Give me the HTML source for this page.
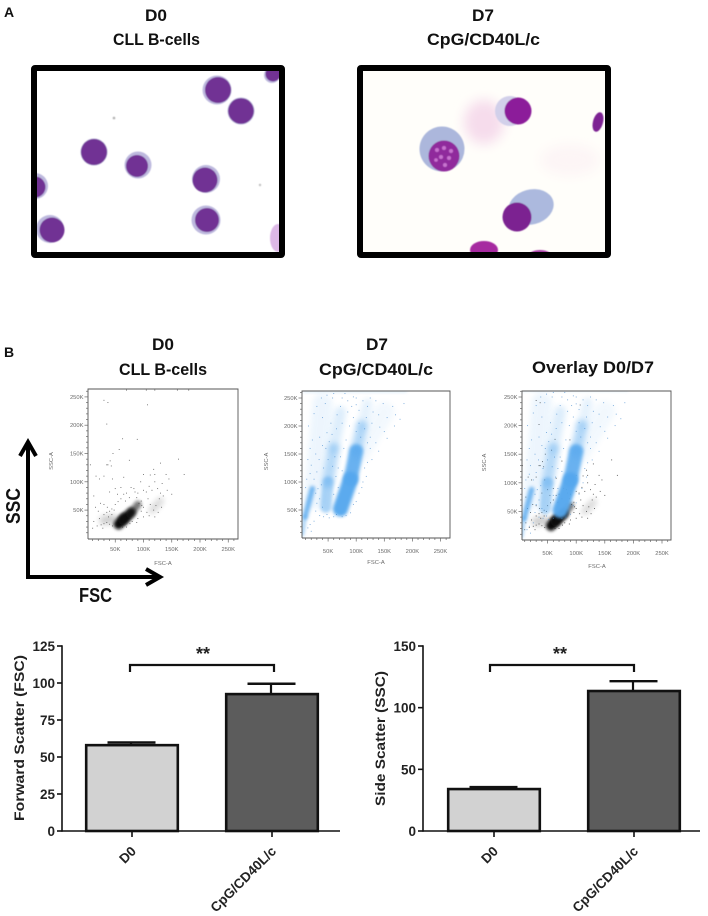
<!DOCTYPE html>
<html lang="en">
<head>
<meta charset="utf-8">
<title>CLL B-cell morphology and scatter</title>
<style>
html,body{margin:0;padding:0;background:#fff;}
body{width:708px;height:916px;overflow:hidden;}
svg{display:block;font-family:"Liberation Sans",sans-serif;}
.title{font-weight:700;font-size:16.5px;fill:#111;text-anchor:start;}
.facs{font-size:5.8px;fill:#6a6a6a;}
.barlabel{font-weight:700;fill:#222;}
</style>
</head>
<body>
<svg id="figure" xmlns="http://www.w3.org/2000/svg" width="708" height="916" viewBox="0 0 708 916">
<defs>
<filter id="soft" filterUnits="userSpaceOnUse" x="0" y="60" width="708" height="210"><feGaussianBlur stdDeviation="0.6"/></filter>
<filter id="haze" filterUnits="userSpaceOnUse" x="300" y="40" width="408" height="240"><feGaussianBlur stdDeviation="6"/></filter>
<filter id="streak" filterUnits="userSpaceOnUse" x="0" y="370" width="708" height="200"><feGaussianBlur stdDeviation="1.5"/></filter>
<filter id="cloud" filterUnits="userSpaceOnUse" x="0" y="370" width="708" height="200"><feGaussianBlur stdDeviation="3"/></filter>
<clipPath id="clip-left"><rect x="37" y="71" width="242" height="181"/></clipPath>
<clipPath id="clip-right"><rect x="363" y="71" width="242" height="181"/></clipPath>
</defs>

<text x="4" y="17" font-size="14" font-weight="700" fill="#111">A</text>
<text class="title" x="145" y="21" textLength="22" lengthAdjust="spacingAndGlyphs">D0</text>
<text class="title" x="113" y="45" textLength="87" lengthAdjust="spacingAndGlyphs">CLL B-cells</text>
<text class="title" x="472" y="21" textLength="22" lengthAdjust="spacingAndGlyphs">D7</text>
<text class="title" x="427" y="45" textLength="113" lengthAdjust="spacingAndGlyphs">CpG/CD40L/c</text>

<g>
  <rect x="34" y="68" width="248" height="187" fill="#fff"/>
  <g clip-path="url(#clip-left)" filter="url(#soft)">
    <g fill="#bdb9de">
      <circle cx="217" cy="90" r="14.5"/><circle cx="241" cy="111" r="13.5"/><circle cx="94" cy="152" r="13.5"/><circle cx="138" cy="165" r="13.5"/><circle cx="206" cy="179" r="14"/><circle cx="206" cy="220" r="14.5"/><circle cx="50" cy="229" r="14"/><circle cx="35" cy="186" r="13"/><circle cx="272" cy="75" r="8"/>
    </g>
    <g fill="#713094">
      <circle cx="218" cy="90" r="13"/><circle cx="241" cy="111" r="12.8"/><circle cx="94" cy="152" r="13"/><circle cx="137" cy="166" r="11"/><circle cx="205" cy="180" r="12.5"/><circle cx="207" cy="220" r="12"/><circle cx="52" cy="230" r="12.5"/><circle cx="35" cy="187" r="10.5"/><circle cx="273" cy="74" r="7.5"/>
    </g>
    <ellipse cx="278" cy="238" rx="8" ry="14" fill="#dcb8e6"/>
    <circle cx="114" cy="118" r="1.3" fill="#b0b0b0"/>
    <circle cx="260" cy="185" r="1.2" fill="#c0c0c0"/>
  </g>
  <rect x="34" y="68" width="248" height="187" fill="none" stroke="#000" stroke-width="6" rx="1"/>
</g>

<g>
  <rect x="360" y="68" width="248" height="187" fill="#fffefa"/>
  <g clip-path="url(#clip-right)">
    <ellipse cx="484" cy="122" rx="20" ry="22" fill="#f6dcec" filter="url(#haze)"/>
    <ellipse cx="570" cy="160" rx="30" ry="16" fill="#fdf5f6" filter="url(#haze)"/>
    <g filter="url(#soft)">
      <circle cx="442" cy="149" r="22.5" fill="#acb7dc"/>
      <circle cx="444" cy="156" r="15.5" fill="#902a9c"/>
      <g fill="#c873cf"><circle cx="437" cy="150" r="2"/><circle cx="444" cy="148" r="2"/><circle cx="451" cy="151" r="2"/><circle cx="441" cy="157" r="2"/><circle cx="449" cy="158" r="2"/><circle cx="436" cy="160" r="1.8"/><circle cx="445" cy="165" r="2"/></g>
      <ellipse cx="510" cy="111" rx="15" ry="15" fill="#d2d0ea"/>
      <circle cx="518" cy="111" r="13.5" fill="#8c1f9a"/>
      <ellipse cx="531" cy="207" rx="23" ry="17.5" fill="#acb9de" transform="rotate(-15 531 207)"/>
      <circle cx="517" cy="217" r="14.5" fill="#7c2091"/>
      <ellipse cx="598" cy="122" rx="5" ry="10" fill="#7d2493" transform="rotate(15 598 122)"/>
      <ellipse cx="484" cy="250" rx="14" ry="9" fill="#a62aa0"/>
      <ellipse cx="540" cy="255" rx="11" ry="5" fill="#a73fa6"/>
    </g>
  </g>
  <rect x="360" y="68" width="248" height="187" fill="none" stroke="#000" stroke-width="6" rx="1"/>
</g>

<text x="4" y="357" font-size="14" font-weight="700" fill="#111">B</text>
<text class="title" x="152" y="350" textLength="22" lengthAdjust="spacingAndGlyphs">D0</text>
<text class="title" x="119" y="375" textLength="88" lengthAdjust="spacingAndGlyphs">CLL B-cells</text>
<text class="title" x="366" y="350" textLength="22" lengthAdjust="spacingAndGlyphs">D7</text>
<text class="title" x="319" y="375" textLength="114" lengthAdjust="spacingAndGlyphs">CpG/CD40L/c</text>
<text class="title" x="532" y="373" textLength="122" lengthAdjust="spacingAndGlyphs">Overlay D0/D7</text>

<g id="plots"></g>

<g fill="none" stroke="#000" stroke-width="4" stroke-linejoin="miter">
  <path d="M28 579V442M20 456L28 442L36 456"/>
  <path d="M26 577H160M146 569L160 577L146 585"/>
</g>
<text transform="translate(20,524) rotate(-90)" font-size="20" font-weight="700" fill="#111" textLength="36" lengthAdjust="spacingAndGlyphs">SSC</text>
<text x="79" y="602" font-size="20" font-weight="700" fill="#111" textLength="33" lengthAdjust="spacingAndGlyphs">FSC</text>

<g id="bars"></g>
</svg>

<script>
// ---------- Flow cytometry data (values in thousands) ----------
var facsTickLabels = ['50K', '100K', '150K', '200K', '250K'];
var facsTicks = [50, 100, 150, 200, 250];
// [fsc start, ssc start, fsc end, ssc end, width, opacity]
var d0Populations = [
  [56, 25, 66, 36, 18, 1],
  [64, 32, 78, 46, 17, 0.95],
  [76, 42, 90, 60, 13, 0.55],
  [30, 32, 46, 34, 16, 0.2],
  [115, 50, 130, 66, 12, 0.16]
];
var d7Populations = [
  [25, 70, 40, 240, 36, 0.1],
  [105, 150, 150, 225, 36, 0.07],
  [46, 55, 50, 100, 20, 0.5],
  [50, 100, 60, 160, 20, 0.42],
  [60, 160, 72, 225, 20, 0.2],
  [72, 52, 90, 105, 27, 0.96],
  [90, 105, 100, 155, 25, 0.88],
  [100, 155, 110, 200, 20, 0.42],
  [110, 200, 120, 240, 18, 0.15],
  [9, 38, 22, 88, 10, 0.8],
  [4, 6, 9, 38, 6, 0.55]
];
var d7TopEdge = [6, 262, 190, 262, 2, 0.6];
var d0Points = [[30,244],[37,240],[35,202],[63,176],[89,175],[107,236],[57,157],[46,150],[41,137],[37,130],[30,110],[35,130],[43,128],[16,110],[22,105],[45,105],[75,138],[162,140],[172,113],[130,133],[118,122],[100,113],[120,113],[140,113],[145,105],[133,97],[120,100],[110,92],[95,100],[100,85],[83,88],[90,80],[88,72],[96,66],[105,82],[115,85],[125,88],[142,85],[135,75],[128,70],[122,58],[118,50],[126,46],[132,55],[112,60],[108,70],[100,55],[96,48],[106,46],[90,35],[88,28],[80,30],[76,26],[70,20],[45,22],[40,25],[35,28],[30,26],[25,24],[22,35],[20,48],[15,55],[30,42],[35,46],[40,48],[44,42],[38,38],[50,60],[55,65],[60,70],[65,78],[70,80],[75,72],[48,50],[44,52],[28,18],[18,22],[12,30],[10,18],[63,20],[85,82],[78,90],[60,90],[50,88],[54,78],[68,66],[92,62],[97,58],[110,40],[100,38],[120,38],[130,80],[150,78],[112,112],[65,108],[40,82],[30,60],[24,62],[36,55],[12,75],[6,130],[160,262],[180,262],[105,262],[120,262],[70,262]];
var d7Points = [[15,200],[22,175],[28,150],[20,130],[30,118],[38,95],[25,105],[18,115],[35,180],[40,215],[45,240],[30,235],[58,250],[75,250],[85,245],[100,250],[112,245],[120,235],[130,225],[140,220],[155,215],[170,220],[185,240],[150,190],[135,170],[125,160],[140,155],[128,140],[120,135],[115,125],[118,110],[125,180],[115,195],[105,205],[95,215],[85,225],[75,205],[65,195],[55,205],[48,188],[40,165],[34,140],[62,145],[58,128],[68,125],[64,110],[68,90],[60,78],[35,70],[30,62],[28,48],[35,40],[42,38],[48,42],[52,36],[60,38],[65,42],[40,55],[25,30],[18,24],[14,18],[20,12],[110,90],[112,100],[105,80],[100,65],[95,60],[90,45],[82,40],[75,38],[120,170],[108,180],[100,190],[88,200],[82,175],[78,160],[72,145],[75,120],[50,140],[42,125],[46,160],[52,172],[57,185],[66,220],[72,235],[92,235],[105,228],[118,215],[128,205],[142,198],[100,238],[95,252],[80,258],[60,258],[48,255],[38,250],[25,222],[18,160],[14,140],[12,105],[10,90],[32,88],[28,80],[155,178],[168,200],[178,212],[165,235],[148,240],[135,245],[125,250]];

var plotsConfig = [
  {name: 'd0', left: 88, right: 238, top: 389, bottom: 539, x0: 87, xk: 0.565, y0: 538.4, yk: 0.566, xt: 551, lx: 163, ly: 565, yl: 53, show: ['d0']},
  {name: 'd7', left: 302, right: 450, top: 391, bottom: 538, x0: 300, xk: 0.562, y0: 538, yk: 0.56, xt: 553, lx: 376, ly: 564, yl: 268, show: ['d7']},
  {name: 'overlay', left: 522, right: 671, top: 391, bottom: 540, x0: 519, xk: 0.572, y0: 540, yk: 0.572, xt: 555, lx: 597, ly: 568, yl: 486, show: ['d0', 'd7']}
];

// ---------- Bar chart data ----------
var barCategories = ['D0', 'CpG/CD40L/c'];
var fscValues = [58, 92.5];
var fscErrors = [1.8, 7];
var fscTicks = [0, 25, 50, 75, 100, 125];
var sscValues = [34, 113.5];
var sscErrors = [1.6, 8];
var sscTicks = [0, 50, 100, 150];

var NS = 'http://www.w3.org/2000/svg';
function mk(parent, tag, attrs) {
  var el = document.createElementNS(NS, tag);
  for (var k in attrs) { el.setAttribute(k, attrs[k]); }
  parent.appendChild(el);
  return el;
}

function drawPopulations(g, cfg, list, color, xs, ys) {
  list.forEach(function (p) {
    var line = mk(g, 'line', {x1: xs(p[0]), y1: ys(p[1]), x2: xs(p[2]), y2: ys(p[3]), stroke: color, 'stroke-width': p[4] * cfg.xk, 'stroke-linecap': 'round', opacity: p[5], filter: p[5] < 0.5 ? 'url(#cloud)' : 'url(#streak)'});
    
    
  });
}
function drawPoints(g, list, color, xs, ys, op) {
  list.forEach(function (p) {
    var dot = mk(g, 'rect', {x: xs(p[0]) - 0.45, y: ys(p[1]) - 0.45, width: 0.9, height: 0.9, fill: color, opacity: op});
    
    
  });
}

function drawPlot(cfg) {
  var root = document.getElementById('plots');
  var g = mk(root, 'g', {});
  
  
  var xs = function (v) { return cfg.x0 + v * cfg.xk; };
  var ys = function (v) { return cfg.y0 - v * cfg.yk; };
  var clipId = 'clip-' + cfg.name;
  var cp = mk(mk(g, 'defs', {}), 'clipPath', {id: clipId});
  mk(cp, 'rect', {x: cfg.left, y: cfg.top, width: cfg.right - cfg.left, height: cfg.bottom - cfg.top});
  var data = mk(g, 'g', {'clip-path': 'url(#' + clipId + ')'});
  
  
  cfg.show.forEach(function (s) {
    if (s === 'd7') {
      drawPopulations(data, cfg, d7Populations, '#55a7ee', xs, ys);
      drawPopulations(data, cfg, [d7TopEdge], '#8cc4f2', xs, ys);
      drawPoints(data, d7Points, '#3f86cc', xs, ys, 0.75);
    } else {
      drawPopulations(data, cfg, d0Populations, '#0a0a0a', xs, ys);
      drawPoints(data, d0Points, '#222', xs, ys, cfg.show.length > 1 ? 0.8 : 0.7);
    }
  });
  var frame = mk(g, 'path', {d: 'M' + cfg.left + ' ' + cfg.bottom + 'V' + cfg.top + 'H' + cfg.right + 'V' + cfg.bottom + 'H' + cfg.left, fill: 'none', stroke: '#555', 'stroke-width': 0.9});
  
  
  var minor = [];
  for (var m = 10; m <= 260; m += 10) { minor.push(m); }
  minor.forEach(function (v) {
    var major = facsTicks.indexOf(v) >= 0;
    var len = major ? 3.5 : 2;
    var tx = mk(g, 'line', {x1: xs(v), x2: xs(v), y1: cfg.bottom, y2: cfg.bottom + len, stroke: '#666', 'stroke-width': 0.7});
    
    
    var ty = mk(g, 'line', {x1: cfg.left - len, x2: cfg.left, y1: ys(v), y2: ys(v), stroke: '#666', 'stroke-width': 0.7});
    
    
  });
  facsTicks.forEach(function (v, i) {
    var xl = mk(g, 'text', {x: xs(v), y: cfg.xt, 'text-anchor': 'middle', 'class': 'facs'});
    xl.textContent = facsTickLabels[i];
    
    
    var yl = mk(g, 'text', {x: cfg.left - 4.5, y: ys(v) + 2, 'text-anchor': 'end', 'class': 'facs'});
    yl.textContent = facsTickLabels[i];
    
    
  });
  var xt = mk(g, 'text', {x: cfg.lx, y: cfg.ly, 'text-anchor': 'middle', 'class': 'facs'});
  xt.textContent = 'FSC-A';
  
  
  var ym = (cfg.top + cfg.bottom) / 2 - 3;
  var yt = mk(g, 'text', {transform: 'translate(' + cfg.yl + ',' + ym + ') rotate(-90)', 'text-anchor': 'middle', 'class': 'facs'});
  yt.textContent = 'SSC-A';
  
  
}
plotsConfig.forEach(drawPlot);

function drawBarChart(o) {
  var g = mk(document.getElementById('bars'), 'g', {});
  
  
  var base = 831, top = 646;
  var ys = function (v) { return base - v * (base - top) / o.max; };
  var ink = '#111';
  o.values.forEach(function (v, i) {
    var cx = o.barX[i] + 47;
    var stem = mk(g, 'line', {x1: cx - 1, x2: cx - 1, y1: ys(v), y2: ys(v + o.errors[i]), stroke: ink, 'stroke-width': 2.2});
    
    
    var cap = mk(g, 'line', {x1: cx - 24.5, x2: cx + 23.5, y1: ys(v + o.errors[i]), y2: ys(v + o.errors[i]), stroke: ink, 'stroke-width': 2.4});
    
    
    var bar = mk(g, 'rect', {x: o.barX[i] + 1.2, y: ys(v), width: 91.6, height: base - ys(v), fill: o.fills[i], stroke: ink, 'stroke-width': 2.6});
    
    
  });
  var yAxis = mk(g, 'line', {x1: o.axisX, x2: o.axisX, y1: top - 0.8, y2: base + 0.8, stroke: ink, 'stroke-width': 1.6});
  
  
  var xAxis = mk(g, 'line', {x1: o.axisX, x2: o.axisEnd, y1: base, y2: base, stroke: ink, 'stroke-width': 1.6});
  
  
  o.ticks.forEach(function (t) {
    var tick = mk(g, 'line', {x1: o.axisX - 5, x2: o.axisX, y1: ys(t), y2: ys(t), stroke: ink, 'stroke-width': 1.6});
    
    
    var lab = mk(g, 'text', {x: o.axisX - 7, y: ys(t) + 5, 'text-anchor': 'end', 'font-size': 13.5, 'class': 'barlabel'});
    lab.textContent = t;
    
    
  });
  barCategories.forEach(function (c, i) {
    var tick = mk(g, 'line', {x1: o.tickX[i], x2: o.tickX[i], y1: base, y2: base + 6, stroke: ink, 'stroke-width': 1.6});
    
    
    var lab = mk(g, 'text', {transform: 'translate(' + (o.tickX[i] + 5) + ',' + (base + 21) + ') rotate(-45)', 'text-anchor': 'end', 'font-size': 13.5, 'class': 'barlabel'});
    lab.textContent = c;
    
    
  });
  var br = mk(g, 'path', {d: 'M' + o.bracket[0] + ' 672V665H' + o.bracket[1] + 'V672', fill: 'none', stroke: ink, 'stroke-width': 2.2});
  
  
  var st = mk(g, 'text', {x: o.starX, y: 660, 'text-anchor': 'middle', 'font-size': 18, 'class': 'barlabel'});
  st.textContent = '**';
  
  
  var ttl = mk(g, 'text', {transform: 'translate(' + o.titleX + ',' + o.titleY + ') rotate(-90)', 'text-anchor': 'middle', 'font-size': 14, 'class': 'barlabel', textLength: o.titleLen, lengthAdjust: 'spacingAndGlyphs'});
  ttl.textContent = o.title;
  
  
}
drawBarChart({name: 'fsc-bar-chart', title: 'Forward Scatter (FSC)', values: fscValues, errors: fscErrors, ticks: fscTicks, max: 125, barX: [85, 225], tickX: [132, 272], axisX: 62, axisEnd: 340, bracket: [130, 274], starX: 203, titleX: 24, titleY: 738, titleLen: 166, fills: ['#d2d2d2', '#5c5c5c']});
drawBarChart({name: 'ssc-bar-chart', title: 'Side Scatter (SSC)', values: sscValues, errors: sscErrors, ticks: sscTicks, max: 150, barX: [447, 587], tickX: [494, 634], axisX: 423, axisEnd: 700, bracket: [490, 634], starX: 560, titleX: 385, titleY: 738.5, titleLen: 135, fills: ['#d2d2d2', '#5c5c5c']});
</script>
</body>
</html>
